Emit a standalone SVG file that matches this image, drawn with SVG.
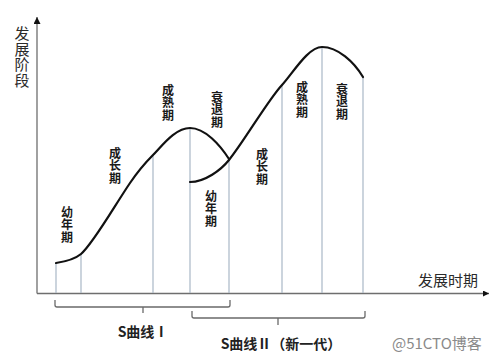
<svg xmlns="http://www.w3.org/2000/svg" width="500" height="358" viewBox="0 0 500 358">
<defs>
<style>
.axis{stroke:#6e6e6e;stroke-width:1.3;fill:none}
.guide{stroke:#a9b8c6;stroke-width:1.2;fill:none}
.curve{stroke:#111;stroke-width:2.2;fill:none;stroke-linecap:round}
.brace{stroke:#6a6a6a;stroke-width:1.3;fill:none}
.stage{font-family:"Noto Sans CJK SC","Noto Sans CJK JP",sans-serif;font-size:12px;font-weight:bold;fill:#1a1a1a;writing-mode:vertical-rl;letter-spacing:0.6px}
.vlabel{font-family:"Noto Sans CJK SC","Noto Sans CJK JP",sans-serif;font-size:15px;fill:#2a2a2a;writing-mode:vertical-rl;letter-spacing:0.6px}
.axislabel{font-family:"Noto Sans CJK SC","Noto Sans CJK JP",sans-serif;font-size:15px;fill:#2a2a2a}
.curvelabel{font-family:"Noto Sans CJK SC","Noto Sans CJK JP",sans-serif;font-size:14px;font-weight:bold;fill:#222;text-anchor:middle}
.wm{font-family:"Noto Sans CJK SC","Noto Sans CJK JP",sans-serif;font-size:15px;fill:#8a8a8a}
</style>
<marker id="arrowUp" viewBox="0 0 10 10" refX="10" refY="5" markerWidth="10" markerHeight="7" markerUnits="userSpaceOnUse" orient="auto">
<path d="M0,0 L10,5 L0,10 Z" fill="#111"/>
</marker>
<marker id="arrowRight" viewBox="0 0 10 10" refX="10" refY="5" markerWidth="12" markerHeight="6" markerUnits="userSpaceOnUse" orient="auto">
<path d="M0,0 L10,5 L0,10 Z" fill="#111"/>
</marker>
</defs>
<rect width="500" height="358" fill="#fff"/>

<g id="axes">
<line class="axis" x1="37" y1="293.5" x2="37" y2="17" marker-end="url(#arrowUp)"/>
<line class="axis" x1="37" y1="293.5" x2="489" y2="293.5" marker-end="url(#arrowRight)"/>
<text class="vlabel" x="22" y="26">发展阶段</text>
<text class="axislabel" x="418" y="286">发展时期</text>
</g>

<g id="connectors">
<line class="guide" x1="56" y1="263" x2="56" y2="293"/>
<line class="guide" x1="81" y1="254" x2="81" y2="293"/>
<line class="guide" x1="153" y1="155" x2="153" y2="293"/>
<line class="guide" x1="190" y1="128" x2="190" y2="293"/>
<line class="guide" x1="229" y1="159" x2="229" y2="293"/>
<line class="guide" x1="282" y1="85" x2="282" y2="293"/>
<line class="guide" x1="322" y1="47" x2="322" y2="293"/>
<line class="guide" x1="363" y1="77" x2="363" y2="293"/>
</g>

<g id="curve1">
<path class="curve" d="M56,263 C66,261.5 75,259 81,254 C93,244 115,205 130,183 C137,172.7 146,162 153,155 C162,146 175,128 190,128 C205,128 220,145 229,159"/>
<text class="stage" x="67" y="206">幼年期</text>
<text class="stage" x="115" y="147">成长期</text>
<text class="stage" x="168" y="84">成熟期</text>
<text class="stage" x="217" y="91">衰退期</text>
</g>

<g id="curve2">
<path class="curve" d="M190,182 C205,182 221,170 229,160 C245,140 268,100 282,85 C293,73 308,47 322,47 C338,47 354,62 363,77"/>
<text class="stage" x="211" y="190">幼年期</text>
<text class="stage" x="262" y="148">成长期</text>
<text class="stage" x="302" y="81">成熟期</text>
<text class="stage" x="342" y="83">衰退期</text>
</g>

<g id="brace1">
<path class="brace" d="M55,300 L55,305 Q55,307 57,307 L228,307 Q230,307 230,305 L230,300 M143,307 L143,313"/>
<text class="curvelabel" x="143" y="337">S曲线Ⅰ</text>
</g>

<g id="brace2">
<path class="brace" d="M192,311 L192,316 Q192,318 194,318 L363,318 Q365,318 365,316 L365,311 M278,318 L278,325"/>
<text class="curvelabel" x="281" y="349">S曲线Ⅱ（新一代）</text>
</g>

<g id="watermark">
<text class="wm" x="392" y="349">@51CTO博客</text>
</g>
</svg>
